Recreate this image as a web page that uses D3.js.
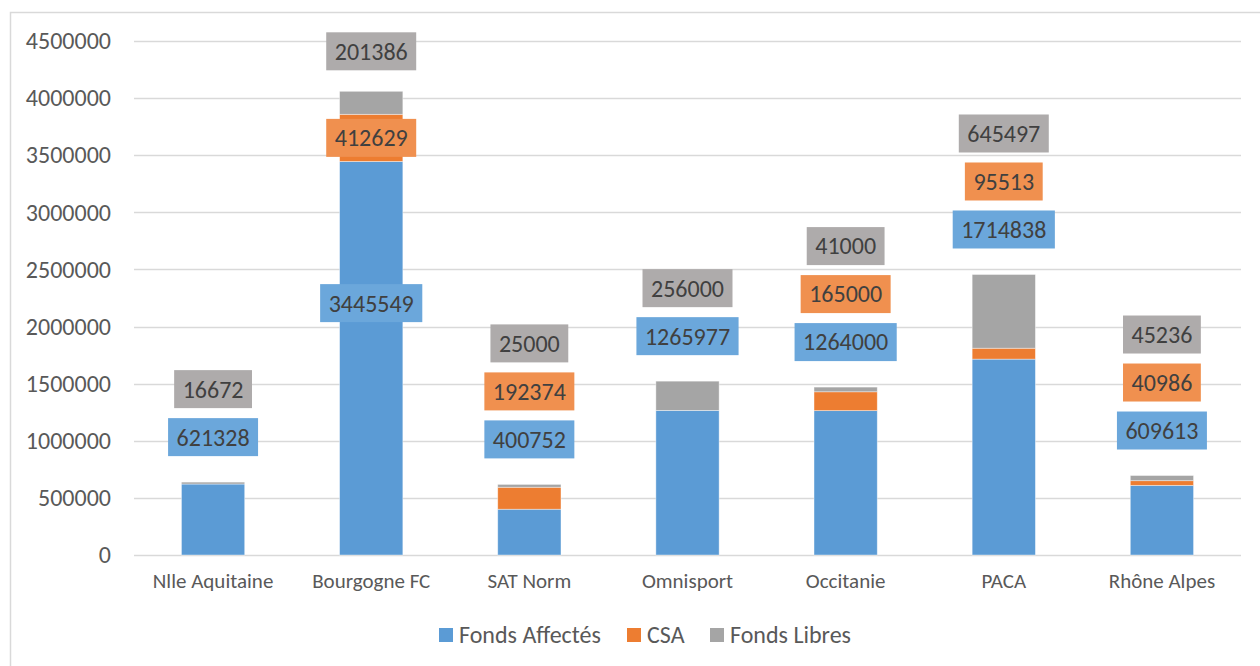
<!DOCTYPE html>
<html>
<head>
<meta charset="utf-8">
<script src="https://cdn.jsdelivr.net/npm/d3@7"></script>
<style>
  body { margin: 0; background: #fff; }
  svg text { font-family: Carlito, "Liberation Sans", Arial, sans-serif; }
</style>
</head>
<body>
<div id="chart"></div>
<script>
(function(){
    var categories = ["Nlle Aquitaine", "Bourgogne FC", "SAT Norm", "Omnisport", "Occitanie", "PACA", "Rhône Alpes"];
    var seriesNames = ["Fonds Affectés", "CSA", "Fonds Libres"];
    var fondsAffectes = [621328, 3445549, 400752, 1265977, 1264000, 1714838, 609613];
    var csa = [0, 412629, 192374, 0, 165000, 95513, 40986];
    var fondsLibres = [16672, 201386, 25000, 256000, 41000, 645497, 45236];
    var yTicks = [0, 500000, 1000000, 1500000, 2000000, 2500000, 3000000, 3500000, 4000000, 4500000];

    var colors = ["#5b9bd5", "#ed7d31", "#a5a5a5"];
    var boxColors = ["#6ba7db", "#f0904f", "#aeabab"];

    var width = 1260, height = 666;
    var margin = {top: 41, bottom: 111, left: 134, right: 19};

    var rows = categories.map(function(c, i){
        return {cat: c, s0: fondsAffectes[i], s1: csa[i], s2: fondsLibres[i]};
    });
    var stack = d3.stack().keys(["s0", "s1", "s2"]);
    var series = stack(rows);

    var x = d3.scaleBand()
        .domain(categories)
        .range([margin.left, width - margin.right])
        .paddingInner(0.6)
        .paddingOuter(0.3);

    var y = d3.scaleLinear()
        .domain([0, 4500000])
        .range([height - margin.bottom, margin.top]);

    var svg = d3.select("#chart")
        .append("svg")
        .attr("width", width)
        .attr("height", height);

    // chart border
    svg.append("rect")
        .attr("x", 10.5).attr("y", 12.5)
        .attr("width", 1300).attr("height", 700)
        .attr("fill", "none")
        .attr("stroke", "#d9d9d9")
        .attr("stroke-width", 1.5);

    // gridlines
    svg.append("g")
        .selectAll("line")
        .data(yTicks)
        .enter()
        .append("line")
        .attr("x1", margin.left)
        .attr("x2", width - margin.right)
        .attr("y1", function(d){ return Math.round(y(d)) + 0.5; })
        .attr("y2", function(d){ return Math.round(y(d)) + 0.5; })
        .attr("stroke", "#d9d9d9")
        .attr("stroke-width", 1.5);

    // y axis
    var yAxis = svg.append("g")
        .attr("transform", "translate(" + (margin.left - 23) + ",0)")
        .call(d3.axisLeft(y).tickValues(yTicks).tickSize(0).tickPadding(0).tickFormat(d3.format("d")));
    yAxis.select(".domain").remove();
    yAxis.selectAll("text")
        .attr("fill", "#595959")
        .style("font-size", "24px");

    // x axis
    var xAxis = svg.append("g")
        .attr("transform", "translate(0," + (height - margin.bottom) + ")")
        .call(d3.axisBottom(x).tickSize(0).tickPadding(18));
    xAxis.select(".domain").remove();
    xAxis.selectAll("text")
        .attr("fill", "#595959")
        .style("font-size", "21px");

    // bars
    svg.append("g")
        .selectAll("g")
        .data(series)
        .enter()
        .append("g")
        .attr("fill", function(d, i){ return colors[i]; })
        .selectAll("rect")
        .data(function(d){ return d.filter(function(p){ return p[1] > p[0]; }); })
        .enter()
        .append("rect")
        .attr("x", function(d){ return x(d.data.cat); })
        .attr("width", x.bandwidth())
        .attr("y", function(d){ return y(d[1]); })
        .attr("height", function(d){ return y(d[0]) - y(d[1]); })
        .attr("stroke", "#ffffff")
        .attr("stroke-opacity", 0.5)
        .attr("stroke-width", 0.8);

    // data labels: stacked above the bar, or spread over the bar when it is too tall
    var labels = [];
    rows.forEach(function(r, i){
        var top = y(r.s0 + r.s1 + r.s2);
        var present = [0, 1, 2].filter(function(k){ return series[k][i][1] > series[k][i][0]; });
        var needed = 45 + 48 * (present.length - 1);
        if (top - needed > margin.top) {
            present.forEach(function(k, j){
                labels.push({k: k, cat: r.cat, v: r["s" + k], cy: top - 45 - 48 * j});
            });
        } else {
            present.forEach(function(k){
                var seg = series[k][i];
                var cy;
                if (k === 2) cy = top - 40;
                else if (k === 0) cy = y(seg[0] + (seg[1] - seg[0]) * 0.64);
                else cy = y((seg[0] + seg[1]) / 2);
                labels.push({k: k, cat: r.cat, v: r["s" + k], cy: cy});
            });
        }
    });

    var lg = svg.append("g")
        .selectAll("g")
        .data(labels)
        .enter()
        .append("g")
        .attr("transform", function(d){ return "translate(" + (x(d.cat) + x.bandwidth() / 2) + "," + d.cy + ")"; });

    lg.append("text")
        .attr("text-anchor", "middle")
        .attr("dy", "0.35em")
        .attr("fill", "#404040")
        .style("font-size", "24px")
        .text(function(d){ return d.v; })
        .each(function(d){ d.w = this.getComputedTextLength(); });

    lg.insert("rect", "text")
        .attr("x", function(d){ return -d.w / 2 - 8.5; })
        .attr("y", -19)
        .attr("width", function(d){ return d.w + 17; })
        .attr("height", 38)
        .attr("fill", function(d){ return boxColors[d.k]; });

    // legend
    var legendX = [439, 627, 710];
    var legend = svg.append("g")
        .selectAll("g")
        .data(seriesNames)
        .enter()
        .append("g")
        .attr("transform", function(d, i){ return "translate(" + legendX[i] + ",635)"; });
    legend.append("rect")
        .attr("x", 0).attr("y", -7)
        .attr("width", 14).attr("height", 14)
        .attr("fill", function(d, i){ return colors[i]; });
    legend.append("text")
        .attr("x", 20)
        .attr("dy", "0.35em")
        .attr("fill", "#595959")
        .style("font-size", "24px")
        .text(function(d){ return d; });
})();
</script>
</body>
</html>
